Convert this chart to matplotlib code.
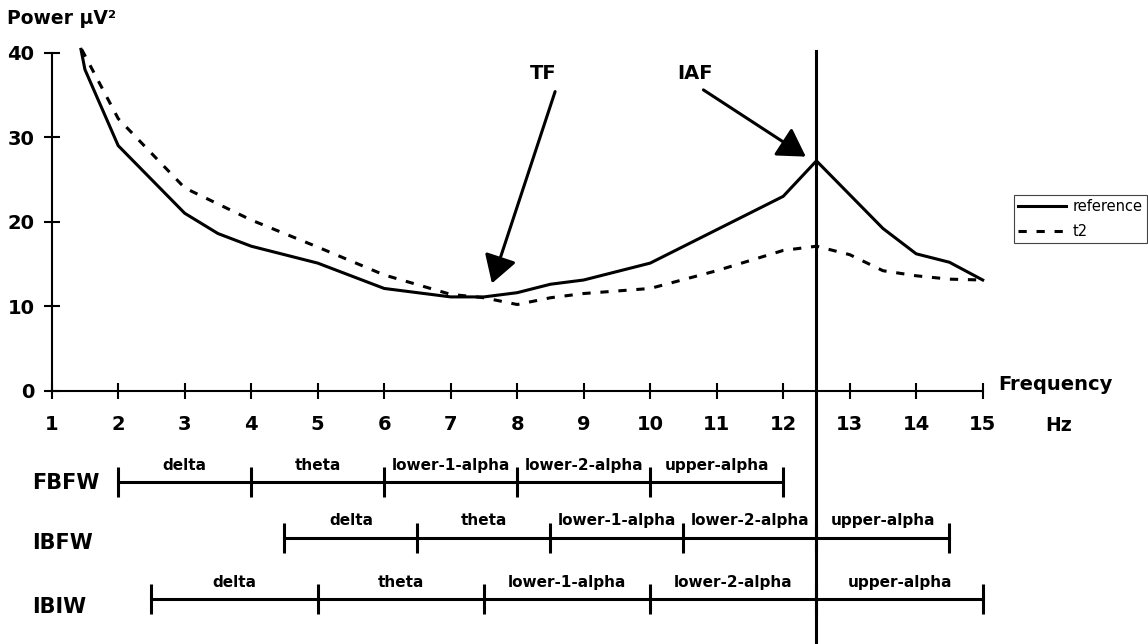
import matplotlib.pyplot as plt

plt.rcParams["font.family"] = ["DejaVu Sans"]
plt.rcParams["font.weight"] = "bold"

# Power spectra (µV²)
freq_ref = [1.44, 1.5, 2, 3, 3.5, 4, 5, 6, 7, 7.5, 8, 8.5, 9, 10, 12, 12.5, 13.5, 14, 14.5, 15]
power_ref = [40.4, 38, 29, 21, 18.6, 17.1, 15.1, 12.1, 11.1, 11.1, 11.6, 12.6, 13.1, 15.1,
             23, 27.2, 19.2, 16.2, 15.2, 13.1]

freq_t2 = [1.45, 2, 3, 4, 5, 6, 7, 7.5, 8, 8.5, 9, 10, 11, 12, 12.5, 13, 13.5, 14, 14.5, 15]
power_t2 = [40.4, 32.2, 24, 20.2, 17, 13.7, 11.4, 11, 10.2, 11, 11.5, 12.1, 14.2, 16.6,
            17.1, 16.1, 14.2, 13.6, 13.2, 13.1]

x_ticks = list(range(1, 16))
y_ticks = [0, 10, 20, 30, 40]

iaf = 12.5
tf_arrow = ((8.57, 35.4), (7.62, 12.7))
iaf_arrow = ((10.8, 35.6), (12.34, 27.7))

# frequency band boundaries (Hz) for the three methods
band_names = ["delta", "theta", "lower-1-alpha", "lower-2-alpha", "upper-alpha"]
row_names = ["FBFW", "IBFW", "IBIW"]
row_edges = [
    [2, 4, 6, 8, 10, 12],
    [4.5, 6.5, 8.5, 10.5, 12.5, 14.5],
    [2.5, 5, 7.5, 10, 12.5, 15],
]

W, H = 1148, 644
fig = plt.figure(figsize=(W / 100, H / 100), dpi=100)
ax = fig.add_axes([51.7 / W, 253.3 / H, 931 / W, 338 / H])

lw = 2.2
ax.plot(freq_ref, power_ref, color="black", lw=lw, label="reference", clip_on=False)
ax.plot(freq_t2, power_t2, color="black", lw=lw, dashes=(2.7, 3.2), label="t2", clip_on=False)

ax.set_xlim(1, 15)
ax.set_ylim(0, 40)
ax.set_xticks(x_ticks)
ax.set_yticks(y_ticks)
for side in ["top", "right"]:
    ax.spines[side].set_visible(False)
for side in ["left", "bottom"]:
    ax.spines[side].set_linewidth(1.5)
ax.tick_params(direction="inout", length=11, width=1.5, labelsize=14)
ax.tick_params(axis="x", pad=12)
ax.tick_params(axis="y", pad=7)

ax.axvline(iaf, ymin=-0.744, ymax=1.006, color="black", lw=lw, clip_on=False)

arrow_kw = dict(arrowstyle="-|>,head_length=0.4,head_width=0.24", mutation_scale=42,
                lw=lw, color="black", shrinkA=0, shrinkB=0)
ax.annotate("", xy=tf_arrow[1], xytext=tf_arrow[0], arrowprops=arrow_kw)
ax.annotate("", xy=iaf_arrow[1], xytext=iaf_arrow[0], arrowprops=arrow_kw)
ax.text(8.39, 37.55, "TF", ha="center", va="center", fontsize=14)
ax.text(10.67, 37.55, "IAF", ha="center", va="center", fontsize=14)

ax.text(1.0164, 0.017, "Frequency", transform=ax.transAxes, ha="left", va="center", fontsize=14)
ax.text(1.082, -0.1015, "Hz", transform=ax.transAxes, ha="center", va="center", fontsize=13.5)
fig.text(6.7 / W, 1 - 18 / H, "Power µV²", ha="left", va="center", fontsize=13.5)

leg = ax.legend(loc="upper right", bbox_to_anchor=(1147 / W, 1 - 195 / H),
                bbox_transform=fig.transFigure, fancybox=False, edgecolor="#444444",
                framealpha=1, handlelength=3.3, handletextpad=0.45, borderpad=0.3,
                labelspacing=0.65, borderaxespad=0, prop={"size": 10.5, "weight": "normal"})
leg.get_frame().set_linewidth(0.8)

# band rows below the spectrum
bx = fig.add_axes([51.7 / W, 0, 931 / W, 204 / H])
bx.set_xlim(1, 15)
bx.set_ylim(0, 1)
bx.axis("off")
row_y = [0.794, 0.52, 0.22]
row_label_y = [482.7, 543.3, 606.7]
for name, edges, y, ly in zip(row_names, row_edges, row_y, row_label_y):
    bx.plot([edges[0], edges[-1]], [y, y], color="black", lw=lw, clip_on=False)
    bx.vlines(edges, y - 0.074, y + 0.074, color="black", lw=lw, clip_on=False)
    for i, band in enumerate(band_names):
        bx.text((edges[i] + edges[i + 1]) / 2, y + 0.083, band, ha="center", va="center",
                fontsize=11)
    fig.text(32 / W, 1 - ly / H, name, ha="left", va="center", fontsize=15)

fig.savefig("out.png", dpi=100)
